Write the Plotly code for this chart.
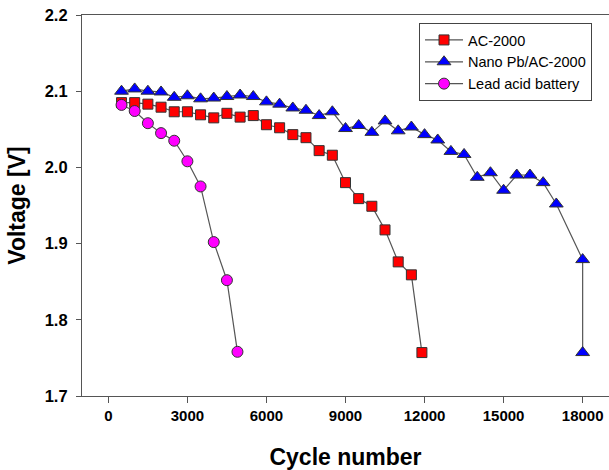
import plotly.graph_objects as go

# ---- data ----
ac_x = [500, 1000, 1500, 2000, 2500, 3000, 3500, 4000, 4500, 5000, 5500, 6000, 6500,
        7000, 7500, 8000, 8500, 9000, 9500, 10000, 10500, 11000, 11500, 11900]
ac_y = [2.085, 2.085, 2.083, 2.079, 2.073, 2.073, 2.069, 2.065, 2.071, 2.066, 2.068, 2.056, 2.052,
        2.043, 2.039, 2.022, 2.016, 1.980, 1.959, 1.949, 1.918, 1.876, 1.859, 1.757]

nano_x = [500, 1000, 1500, 2000, 2500, 3000, 3500, 4000, 4500, 5000, 5500, 6000, 6500,
          7000, 7500, 8000, 8500, 9000, 9500, 10000, 10500, 11000, 11500, 12000, 12500,
          13000, 13500, 14000, 14500, 15000, 15500, 16000, 16500, 17000, 18000, 18000]
nano_y = [2.100, 2.103, 2.100, 2.099, 2.092, 2.094, 2.090, 2.091, 2.093, 2.095, 2.093, 2.086, 2.083,
          2.078, 2.075, 2.068, 2.073, 2.051, 2.055, 2.046, 2.061, 2.048, 2.053, 2.043, 2.036,
          2.021, 2.017, 1.987, 1.993, 1.970, 1.990, 1.990, 1.980, 1.952, 1.879, 1.757]

lead_x = [500, 1000, 1500, 2000, 2500, 3000, 3500, 4000, 4500, 4900]
lead_y = [2.082, 2.074, 2.058, 2.045, 2.035, 2.008, 1.975, 1.902, 1.852, 1.758]

x_ticks = [0, 3000, 6000, 9000, 12000, 15000, 18000]
y_ticks = [1.7, 1.8, 1.9, 2.0, 2.1, 2.2]

FONT = "Arial, Liberation Sans, sans-serif"
LINE = "#555555"
EDGE = "#333333"

fig = go.Figure()
fig.add_trace(go.Scatter(
    x=ac_x, y=ac_y, name="AC-2000", mode="lines+markers",
    line=dict(color=LINE, width=1.2),
    marker=dict(symbol="square", size=10, color="#FF0000", line=dict(color=EDGE, width=1))))
fig.add_trace(go.Scatter(
    x=nano_x, y=nano_y, name="Nano Pb/AC-2000", mode="lines+markers",
    line=dict(color=LINE, width=1.2),
    marker=dict(symbol="triangle-up", size=12, color="#0000FF", line=dict(color=EDGE, width=1))))
fig.add_trace(go.Scatter(
    x=lead_x, y=lead_y, name="Lead acid battery", mode="lines+markers",
    line=dict(color=LINE, width=1.2),
    marker=dict(symbol="circle", size=11, color="#FF00FF", line=dict(color=EDGE, width=1))))

fig.update_layout(
    width=609, height=470,
    margin=dict(l=82, r=0, t=15, b=74),
    paper_bgcolor="white", plot_bgcolor="white",
    font=dict(family=FONT, color="black"),
    showlegend=True,
    legend=dict(
        x=0.6395, y=0.979, xanchor="left", yanchor="top",
        bgcolor="white", bordercolor="#444444", borderwidth=1,
        font=dict(family=FONT, size=14.5, color="black"),
        tracegroupgap=0, itemwidth=38,
    ),
    xaxis=dict(
        range=[-1000, 19000], tickvals=x_ticks, ticktext=[str(v) for v in x_ticks],
        ticks="outside", ticklen=6, tickcolor="#555555", tickwidth=1,
        showline=True, linecolor="#555555", linewidth=1.2, mirror=True,
        showgrid=False, zeroline=False,
        tickfont=dict(family=FONT, size=15, weight="bold"),
        title=dict(text="Cycle number", font=dict(family=FONT, size=23, weight="bold"), standoff=27),
    ),
    yaxis=dict(
        range=[1.7, 2.2], tickvals=y_ticks, ticktext=[f"{v:.1f}" for v in y_ticks],
        ticks="outside", ticklen=5, tickcolor="#555555", tickwidth=1,
        showline=True, linecolor="#555555", linewidth=1.2, mirror=False,
        showgrid=False, zeroline=False, ticklabelstandoff=5,
        tickfont=dict(family=FONT, size=16.5, weight="bold"),
        title=dict(text="Voltage [V]", font=dict(family=FONT, size=23, weight="bold"), standoff=12),
    ),
)

fig.write_html("out.html")
